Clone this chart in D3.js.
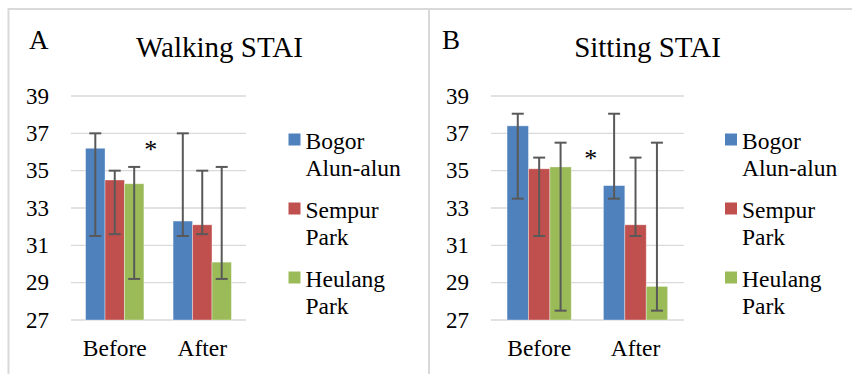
<!DOCTYPE html>
<html>
<head>
<meta charset="utf-8">
<script src="https://cdn.jsdelivr.net/npm/d3@7"></script>
<style>
  html, body { margin: 0; padding: 0; background: #fff; }
  svg { display: block; }
</style>
</head>
<body>
<svg id="chart"></svg>
<script>
/*
Data
*/

const categories   = ["Before", "After"];
const seriesNames  = [["Bogor", "Alun-alun"], ["Sempur", "Park"], ["Heulang", "Park"]];
const seriesColors = ["#4F81BD", "#C0504D", "#9BBB59"];
const yTicks       = [27, 29, 31, 33, 35, 37, 39];

// rows = series (Bogor, Sempur, Heulang), columns = categories (Before, After)
const walkingMean = [[36.2, 32.3], [34.5, 32.1], [34.3, 30.1]];
const walkingLow  = [[31.5, 31.5], [31.6, 31.6], [29.2, 29.2]];
const walkingHigh = [[37.0, 37.0], [35.0, 35.0], [35.2, 35.2]];

const sittingMean = [[37.4, 34.2], [35.1, 32.1], [35.2, 28.8]];
const sittingLow  = [[33.5, 33.5], [31.5, 31.5], [27.5, 27.5]];
const sittingHigh = [[38.05, 38.05], [35.7, 35.7], [36.5, 36.5]];

// asterisk: [category, fraction across band, value]
const walkingStar = ["Before", 0.91, 36.4];
const sittingStar = ["Before", 1.035, 35.9];

/*
Setup
*/

const W = 852, H = 374;
const FONT = "Liberation Serif";
const svg = d3.select("#chart").attr("width", W).attr("height", H);

// panel frames
svg.append("line").attr("x1", 8).attr("x2", W).attr("y1", 9).attr("y2", 9)
  .attr("stroke", "#d9d9d9").attr("stroke-width", 2);
[8.5, 429].forEach(x => {
  svg.append("line").attr("x1", x).attr("x2", x).attr("y1", 8).attr("y2", H)
    .attr("stroke", "#d9d9d9").attr("stroke-width", 2);
});

// text helper so every label gets the serif face
function label(sel, size) {
  return sel.append("text").attr("font-family", FONT).attr("font-size", size).attr("fill", "#000");
}

let Panel = function (config) {
  return this.__init__(config);
};

Panel.prototype = {

  __init__ : function (config) {
    const self = this;
    const g = svg.append("g");

    self.y = d3.scaleLinear().domain([27, 39]).range([320, 96]);
    self.x0 = d3.scaleBand().domain(categories).range(config.xRange).padding(0);
    self.x1 = d3.scaleBand().domain(d3.range(seriesNames.length))
      .range([0, self.x0.bandwidth()]).paddingInner(0).paddingOuter(0.75);

    // letter + title
    label(g, 27).attr("x", config.letterX).attr("y", 48.5).text(config.letter);
    label(g, 29).attr("x", config.titleX).attr("y", 56.5)
      .attr("text-anchor", "middle").text(config.title);

    // gridlines
    g.append("g").selectAll("line").data(yTicks).enter().append("line")
      .attr("x1", config.xRange[0]).attr("x2", config.xRange[1])
      .attr("y1", d => self.y(d)).attr("y2", d => self.y(d))
      .attr("stroke", "#d9d9d9").attr("stroke-width", 1.4);

    // y tick labels
    const yl = g.append("g");
    yTicks.forEach(t => {
      label(yl, 23).attr("x", config.xRange[0] - 22).attr("y", self.y(t) + 7.8)
        .attr("text-anchor", "end").text(t);
    });

    // bars
    const rows = [];
    config.mean.forEach((s, i) => s.forEach((v, j) => {
      rows.push({ s: i, cat: categories[j], v: v, lo: config.low[i][j], hi: config.high[i][j] });
    }));

    g.append("g").selectAll("rect").data(rows).enter().append("rect")
      .attr("x", d => self.x0(d.cat) + self.x1(d.s))
      .attr("width", self.x1.bandwidth())
      .attr("y", d => self.y(d.v))
      .attr("height", d => self.y(27) - self.y(d.v))
      .attr("fill", d => seriesColors[d.s])
      .attr("stroke", "rgba(255,255,255,0.45)")
      .attr("stroke-width", 0.8);

    // error bars
    const eb = g.append("g").attr("stroke", "#595959").attr("stroke-width", 2);
    const cx = d => self.x0(d.cat) + self.x1(d.s) + self.x1.bandwidth() / 2;
    eb.selectAll("line.v").data(rows).enter().append("line")
      .attr("x1", cx).attr("x2", cx)
      .attr("y1", d => self.y(d.lo)).attr("y2", d => self.y(d.hi));
    ["lo", "hi"].forEach(k => {
      eb.selectAll("line." + k).data(rows).enter().append("line")
        .attr("x1", d => cx(d) - 6).attr("x2", d => cx(d) + 6)
        .attr("y1", d => self.y(d[k])).attr("y2", d => self.y(d[k]));
    });

    // x labels
    const xl = g.append("g");
    categories.forEach(c => {
      label(xl, 23.5).attr("x", self.x0(c) + self.x0.bandwidth() / 2).attr("y", 356)
        .attr("text-anchor", "middle").text(c);
    });

    // asterisk
    const st = config.star;
    label(g, 26)
      .attr("x", self.x0(st[0]) + self.x0.bandwidth() * st[1])
      .attr("y", self.y(st[2]) + 13)
      .attr("text-anchor", "middle").text("*");

    // legend
    seriesNames.forEach((name, i) => {
      const lg = g.append("g")
        .attr("transform", "translate(" + config.legendX + "," + (133.5 + i * 69) + ")");
      lg.append("rect").attr("width", 12).attr("height", 12).attr("fill", seriesColors[i]);
      label(lg, 23.5).attr("x", 17).attr("y", 15).text(name[0]);
      label(lg, 23.5).attr("x", 17).attr("y", 42).text(name[1]);
    });

    return self;
  }
};

new Panel({
  letter: "A", letterX: 29, title: "Walking STAI", titleX: 219.5,
  xRange: [71, 246], legendX: 288.5,
  mean: walkingMean, low: walkingLow, high: walkingHigh, star: walkingStar
});

new Panel({
  letter: "B", letterX: 442, title: "Sitting STAI", titleX: 647.5,
  xRange: [491, 683.7], legendX: 725,
  mean: sittingMean, low: sittingLow, high: sittingHigh, star: sittingStar
});
</script>
</body>
</html>
